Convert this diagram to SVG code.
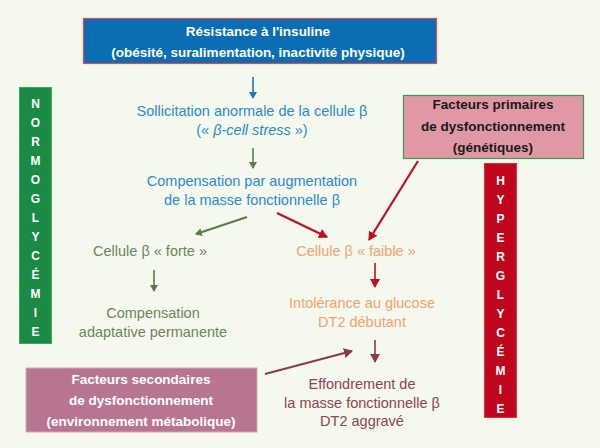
<svg xmlns="http://www.w3.org/2000/svg" width="600" height="448" viewBox="0 0 600 448">
<defs>
<style>
text{font-family:"Liberation Sans","DejaVu Sans",sans-serif;text-anchor:middle}
.b{font-weight:bold;font-size:13.5px}
.r{font-size:14.5px}
.w{fill:#ffffff}
.blue{fill:#2b8bcc}
.olive{fill:#6f8560}
.orange{fill:#f2a36f}
.maroon{fill:#8e4457}
.letter{font-weight:bold;fill:#ffffff;font-size:12px}
</style>
<marker id="mBlue" markerWidth="8" markerHeight="8" refX="6" refY="4" orient="auto" markerUnits="userSpaceOnUse"><path d="M0,0 L7,4 L0,8 Z" fill="#1a78c2"/></marker>
<marker id="mGreen" markerWidth="8" markerHeight="8" refX="6" refY="4" orient="auto" markerUnits="userSpaceOnUse"><path d="M0,0 L7,4 L0,8 Z" fill="#5f7a50"/></marker>
<marker id="mRed" markerWidth="10" markerHeight="10" refX="8" refY="5" orient="auto" markerUnits="userSpaceOnUse"><path d="M0,0 L9,5 L0,10 Z" fill="#c0101e"/></marker>
<marker id="mMaroon" markerWidth="10" markerHeight="10" refX="8" refY="5" orient="auto" markerUnits="userSpaceOnUse"><path d="M0,0 L9,5 L0,10 Z" fill="#8e3a4c"/></marker>
</defs>
<rect x="0" y="0" width="600" height="448" fill="#f4f8ed"/>

<g id="resistance">
<rect x="83.5" y="18.5" width="353" height="45" fill="#0b6db4" stroke="#e24a52" stroke-width="1.2"/>
<text x="258" y="36" class="b w">Résistance à l'insuline</text>
<text x="258" y="57" class="b w">(obésité, suralimentation, inactivité physique)</text>
</g>

<g id="normoglycemie">
<rect x="19.5" y="87.5" width="32" height="256" fill="#1b8a45" stroke="#3aa85e" stroke-width="1"/>
<text x="35.5" y="108" class="letter">N</text>
<text x="35.5" y="127" class="letter">O</text>
<text x="35.5" y="146" class="letter">R</text>
<text x="35.5" y="165" class="letter">M</text>
<text x="35.5" y="184" class="letter">O</text>
<text x="35.5" y="203" class="letter">G</text>
<text x="35.5" y="222" class="letter">L</text>
<text x="35.5" y="241" class="letter">Y</text>
<text x="35.5" y="260" class="letter">C</text>
<text x="35.5" y="279" class="letter">É</text>
<text x="35.5" y="298" class="letter">M</text>
<text x="35.5" y="317" class="letter">I</text>
<text x="35.5" y="336" class="letter">E</text>
</g>

<g id="hyperglycemie">
<rect x="484.5" y="163.5" width="32" height="254" fill="#c0061c" stroke="#e4303c" stroke-width="1"/>
<text x="500.5" y="185" class="letter">H</text>
<text x="500.5" y="204" class="letter">Y</text>
<text x="500.5" y="223" class="letter">P</text>
<text x="500.5" y="242" class="letter">E</text>
<text x="500.5" y="261" class="letter">R</text>
<text x="500.5" y="280" class="letter">G</text>
<text x="500.5" y="299" class="letter">L</text>
<text x="500.5" y="318" class="letter">Y</text>
<text x="500.5" y="337" class="letter">C</text>
<text x="500.5" y="356" class="letter">É</text>
<text x="500.5" y="375" class="letter">M</text>
<text x="500.5" y="394" class="letter">I</text>
<text x="500.5" y="413" class="letter">E</text>
</g>

<g id="primaires">
<rect x="403.5" y="95.5" width="180" height="63" fill="#e098a4" stroke="#3a9a50" stroke-width="1.2"/>
<text x="493" y="109" class="b" fill="#1a1a1a">Facteurs primaires</text>
<text x="493" y="131" class="b" fill="#1a1a1a">de dysfonctionnement</text>
<text x="493" y="152" class="b" fill="#1a1a1a">(génétiques)</text>
</g>

<g id="secondaires">
<rect x="26" y="368" width="231" height="64" fill="#b87592" stroke="#d9a5bb" stroke-width="1"/>
<text x="141" y="384" class="b w">Facteurs secondaires</text>
<text x="141" y="405" class="b w">de dysfonctionnement</text>
<text x="141" y="426" class="b w">(environnement métabolique)</text>
</g>

<g id="sollicitation">
<text x="252" y="116" class="r blue">Sollicitation anormale de la cellule β</text>
<text x="252" y="135" class="r blue">(« <tspan font-style="italic">β-cell stress</tspan> »)</text>
</g>

<g id="compensation">
<text x="252" y="186" class="r blue">Compensation par augmentation</text>
<text x="252" y="205" class="r blue">de la masse fonctionnelle β</text>
</g>

<g id="forte">
<text x="150" y="256" class="r olive">Cellule β « forte »</text>
</g>

<g id="adaptative">
<text x="153" y="318" class="r olive">Compensation</text>
<text x="153" y="337" class="r olive">adaptative permanente</text>
</g>

<g id="faible">
<text x="356" y="256" class="r orange">Cellule β « faible »</text>
</g>

<g id="intolerance">
<text x="362" y="308" class="r orange">Intolérance au glucose</text>
<text x="362" y="327" class="r orange">DT2 débutant</text>
</g>

<g id="effondrement">
<text x="362" y="389" class="r maroon">Effondrement de</text>
<text x="362" y="408" class="r maroon">la masse fonctionnelle β</text>
<text x="362" y="426" class="r maroon">DT2 aggravé</text>
</g>

<g id="connectors" fill="none">
<line x1="253" y1="77" x2="253" y2="98" stroke="#1a78c2" stroke-width="1.6" marker-end="url(#mBlue)"/>
<line x1="253" y1="148" x2="253" y2="168" stroke="#5f7a50" stroke-width="1.6" marker-end="url(#mGreen)"/>
<line x1="247" y1="217" x2="196" y2="234" stroke="#5f7a50" stroke-width="2.2" marker-end="url(#mGreen)"/>
<line x1="277" y1="213" x2="327" y2="237" stroke="#c0101e" stroke-width="2.2" marker-end="url(#mRed)"/>
<line x1="418" y1="161" x2="369" y2="240" stroke="#c0101e" stroke-width="2.2" marker-end="url(#mRed)"/>
<line x1="154" y1="270" x2="154" y2="291" stroke="#5f7a50" stroke-width="1.6" marker-end="url(#mGreen)"/>
<line x1="375" y1="263" x2="375" y2="287" stroke="#c0101e" stroke-width="1.6" marker-end="url(#mRed)"/>
<line x1="375" y1="340" x2="375" y2="362" stroke="#8e3a4c" stroke-width="1.6" marker-end="url(#mMaroon)"/>
<line x1="265" y1="374" x2="352" y2="351" stroke="#8e3a4c" stroke-width="2.2" marker-end="url(#mMaroon)"/>
</g>
</svg>
